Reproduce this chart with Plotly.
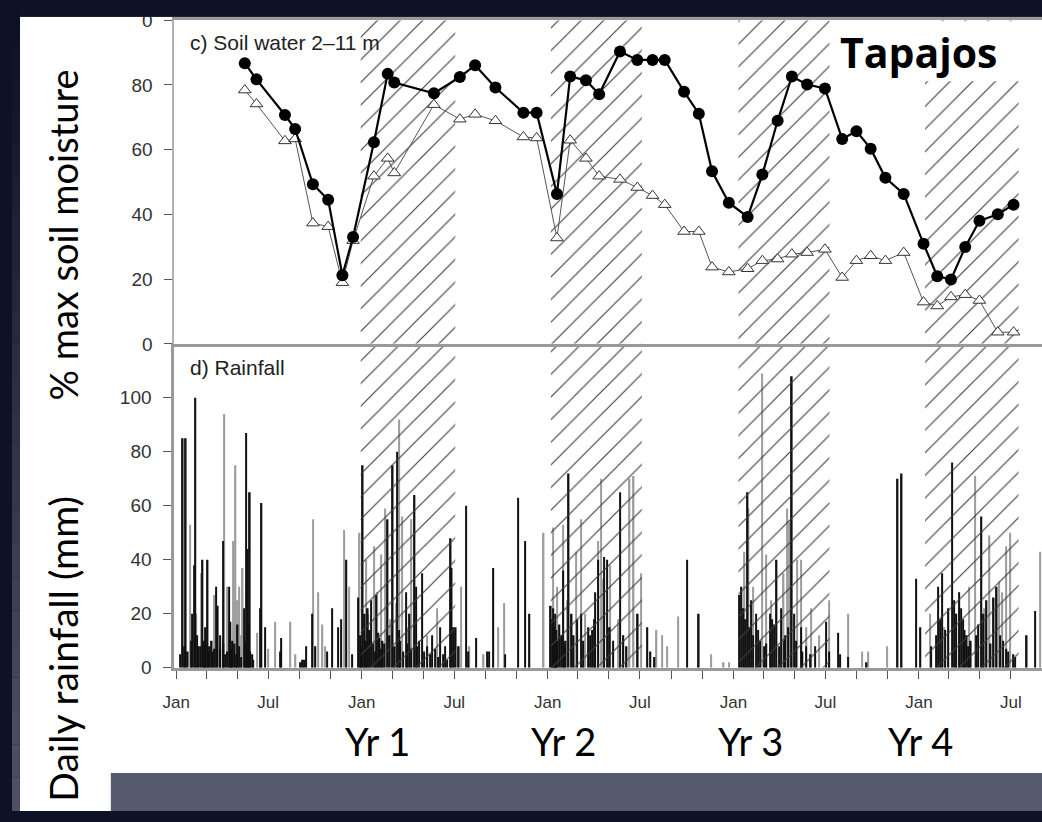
import numpy as np
import pandas as pd
import plotly.graph_objects as go

W, H = 1042, 822

# ---------------- data ----------------
soil_dates = ["1999-05-16", "1999-06-08", "1999-08-03", "1999-08-23", "1999-09-27", "1999-10-27", "1999-11-24", "1999-12-15",
              "2000-01-25", "2000-02-21", "2000-03-05", "2000-05-22", "2000-07-12", "2000-08-11", "2000-09-20", "2000-11-14", "2000-12-10",
              "2001-01-19", "2001-02-14", "2001-03-17", "2001-04-12", "2001-05-23", "2001-06-26", "2001-07-26", "2001-08-19", "2001-09-26",
              "2001-10-25", "2001-11-20", "2001-12-23",
              "2002-01-29", "2002-02-27", "2002-03-29", "2002-04-26", "2002-05-26", "2002-06-30", "2002-08-03", "2002-08-31", "2002-09-28",
              "2002-10-27", "2002-12-02",
              "2003-01-10", "2003-02-06", "2003-03-05", "2003-04-02", "2003-04-30", "2003-06-05", "2003-07-06"]
soil_control = [86.7, 81.7, 70.7, 66.4, 49.3, 44.5, 21.2, 33.0, 62.3, 83.4, 80.7, 77.4, 82.4, 86.1, 79.2, 71.4, 71.4,
                46.3, 82.6, 81.4, 77.1, 90.3, 87.7, 87.7, 87.7, 77.9, 71.1, 53.3, 43.6,
                39.2, 52.3, 68.9, 82.6, 80.1, 78.9, 63.3, 65.7, 60.3, 51.3, 46.3,
                30.9, 20.9, 19.9, 29.9, 38.0, 40.0, 43.0]
soil_treatment = [78.4, 74.1, 62.7, 63.3, 37.3, 36.2, 18.9, 31.9, 51.8, 57.3, 52.8, 73.9, 69.4, 70.9, 68.9, 63.9, 63.6,
                  32.7, 62.9, 57.3, 51.8, 50.8, 48.3, 45.8, 43.0, 34.7, 34.7, 23.7, 22.2,
                  23.2, 25.7, 26.2, 27.7, 28.2, 29.2, 20.5, 25.7, 27.2, 25.7, 28.2,
                  12.9, 11.7, 14.5, 15.2, 13.4, 3.6, 3.6]

# daily rainfall (day of record counted from 1999-01-01, mm)
rain_start = "1999-01-01"
rain_black = [(8, 5), (13, 85), (16, 8), (19, 85), (23, 6), (29, 10), (31, 20), (35, 38), (38, 100), (41, 12), (43, 8), (47, 8),
              (52, 40), (55, 10), (56, 9), (58, 15), (62, 40), (64, 6), (66, 8), (70, 10), (72, 6), (76, 7), (79, 30), (82, 23),
              (86, 7), (87, 12), (92, 47), (93, 9), (97, 5), (101, 6), (104, 30), (107, 17), (109, 7), (111, 10), (115, 9),
              (119, 5), (121, 16), (124, 8), (128, 4), (134, 22), (136, 10), (138, 87), (141, 44), (142, 16), (145, 65),
              (146, 6), (150, 5), (152, 3), (165, 22), (168, 61), (175, 15), (205, 6), (207, 11), (245, 2), (249, 3), (253, 3),
              (256, 8), (267, 20), (274, 8), (297, 6), (307, 22), (319, 15), (325, 18), (335, 40), (346, 5), (358, 26),
              (362, 12), (365, 8), (367, 75), (371, 20), (373, 10), (377, 22), (381, 14), (384, 25), (387, 9), (391, 6),
              (393, 27), (398, 13), (400, 11), (404, 7), (406, 10), (410, 9), (416, 55), (420, 12), (426, 75), (430, 8),
              (435, 80), (439, 14), (441, 10), (447, 6), (452, 28), (455, 9), (459, 20), (463, 7), (469, 64), (472, 30),
              (474, 8), (478, 10), (484, 35), (488, 6), (494, 8), (500, 5), (503, 12), (509, 7), (515, 4), (519, 15), (525, 5),
              (529, 8), (533, 3), (540, 48), (542, 37), (546, 15), (550, 15), (556, 8), (570, 60), (575, 6), (590, 11),
              (612, 6), (616, 6), (624, 37), (647, 5), (673, 63), (686, 47), (695, 20),
              (737, 23), (739, 18), (741, 22), (743, 15), (745, 20), (746, 12), (748, 14), (750, 10), (754, 16), (758, 12),
              (761, 36), (764, 8), (766, 10), (772, 72), (778, 20), (782, 12), (789, 18), (797, 20), (801, 10), (811, 15),
              (815, 12), (818, 14), (822, 18), (824, 28), (830, 40), (842, 41), (848, 40), (853, 15), (859, 10), (873, 65),
              (879, 12), (886, 8), (908, 20), (927, 15), (933, 6), (941, 4), (1005, 40), (1028, 20),
              (1108, 27), (1112, 30), (1116, 22), (1120, 18), (1124, 65), (1128, 15), (1131, 25), (1135, 12), (1141, 20),
              (1145, 14), (1149, 10), (1157, 8), (1161, 9), (1168, 20), (1172, 18), (1176, 16), (1181, 40), (1186, 8),
              (1190, 22), (1196, 10), (1198, 12), (1204, 15), (1211, 108), (1216, 20), (1219, 10), (1229, 15), (1232, 6),
              (1239, 8), (1248, 5), (1257, 8), (1278, 17), (1284, 6), (1302, 13), (1306, 5), (1322, 4), (1358, 2),
              (1419, 70), (1427, 72), (1455, 33), (1464, 15), (1485, 8), (1495, 12), (1499, 30), (1503, 18), (1507, 35),
              (1513, 14), (1519, 22), (1526, 76), (1530, 25), (1534, 20), (1540, 28), (1544, 22), (1548, 18), (1551, 14),
              (1555, 12), (1559, 8), (1563, 10), (1573, 12), (1578, 16), (1584, 56), (1588, 20), (1594, 25), (1602, 9),
              (1608, 26), (1614, 30), (1621, 12), (1627, 10), (1633, 7), (1637, 6), (1647, 5), (1650, 4), (1673, 12),
              (1689, 21)]
rain_gray = [(27, 53), (40, 20), (49, 35), (60, 15), (74, 27), (95, 94), (100, 30), (113, 47), (117, 75), (121, 25), (124, 30),
             (128, 12), (131, 37), (159, 13), (181, 7), (194, 17), (225, 17), (235, 5), (270, 55), (280, 28), (288, 16),
             (293, 8), (330, 51), (340, 30), (361, 50), (373, 40), (378, 20), (390, 45), (395, 28), (403, 42), (411, 59),
             (422, 18), (432, 24), (439, 92), (445, 56), (455, 15), (463, 55), (494, 12), (513, 22), (560, 30), (577, 8),
             (605, 5), (634, 15), (645, 24), (723, 50), (741, 52), (750, 30), (761, 53), (770, 25), (787, 43), (797, 55),
             (805, 20), (830, 47), (836, 70), (840, 33), (853, 38), (870, 18), (880, 12), (892, 70), (900, 71), (914, 35),
             (945, 14), (956, 12), (965, 8), (988, 19), (1052, 5), (1077, 2), (1087, 2), (1118, 43), (1126, 59), (1135, 30),
             (1153, 109), (1161, 42), (1170, 25), (1195, 35), (1201, 59), (1205, 54), (1221, 40), (1229, 40), (1240, 15),
             (1249, 22), (1265, 12), (1285, 25), (1322, 20), (1349, 6), (1361, 6), (1399, 8), (1483, 20), (1510, 15),
             (1534, 20), (1540, 25), (1560, 30), (1572, 71), (1590, 22), (1600, 49), (1619, 32), (1625, 28), (1633, 45),
             (1641, 50), (1699, 43)]

# throughfall-exclusion (panels in place) periods -> hatched bands
exclusion_start = ["1999-12-30", "2001-01-07", "2002-01-11", "2003-01-13"]
exclusion_end = ["2000-07-03", "2001-07-05", "2002-07-09", "2003-07-16"]

month_tick_dates = ["1999-01-01", "1999-07-01", "2000-01-01", "2000-07-01", "2001-01-01", "2001-07-01",
                    "2002-01-01", "2002-07-01", "2003-01-01", "2003-07-01"]
month_tick_labels = ["Jan", "Jul", "Jan", "Jul", "Jan", "Jul", "Jan", "Jul", "Jan", "Jul"]
soil_ticks = [0, 20, 40, 60, 80, 100]
soil_tick_labels = ["0", "20", "40", "60", "80", "0"]
rain_ticks = [0, 20, 40, 60, 80, 100]
year_labels = ["Yr 1", "Yr 2", "Yr 3", "Yr 4"]

# ---------------- helpers ----------------
DAY_MS = 86400000
t0 = pd.Timestamp(rain_start)
rb_day, rb_mm = zip(*rain_black)
rg_day, rg_mm = zip(*rain_gray)
rb_x = [t0 + pd.Timedelta(days=d) for d in rb_day]
rg_x = [t0 + pd.Timedelta(days=d) for d in rg_day]

bs = pd.to_datetime(exclusion_start)
be = pd.to_datetime(exclusion_end)
band_mid = bs + (be - bs) / 2
band_w = [(e - s).total_seconds() * 1000 for s, e in zip(bs, be)]

x_range = ["1998-12-28", "2003-08-31"]
x_dom = [164 / W, 1.0]
yb_dom = [(H - 675) / H, (H - 342.6) / H]
yt_dom = [(H - 342.6) / H, (H - 10.4) / H]

AX = "#9a9a9a"
TICKC = "#555555"
SANS = "Liberation Sans, Arial, Helvetica, sans-serif"
GILL = "Lato, Open Sans, sans-serif"
NAVY = "#0f1226"

fig = go.Figure()

# rainfall bars
fig.add_trace(go.Bar(x=rg_x, y=rg_mm, width=2.6 * DAY_MS, marker=dict(color="#9c9c9c", line_width=0),
                     xaxis="x", yaxis="y", hoverinfo="skip"))
fig.add_trace(go.Bar(x=rb_x, y=rb_mm, width=3.0 * DAY_MS, marker=dict(color="#111111", line_width=0),
                     xaxis="x", yaxis="y", hoverinfo="skip"))

# hatched exclusion bands in both panels
for xa, ya, top in [("x", "y", 120), ("x2", "y2", 100)]:
    fig.add_trace(go.Bar(
        x=band_mid, y=[top] * len(band_mid), width=band_w, xaxis=xa, yaxis=ya, hoverinfo="skip",
        marker=dict(color="rgba(255,255,255,0)", line_width=0,
                    pattern=dict(shape="/", size=16, solidity=0.07, fgcolor="#3c3c3c",
                                 bgcolor="rgba(255,255,255,0)", fillmode="replace"))))

# soil water
fig.add_trace(go.Scatter(x=soil_dates, y=soil_treatment, mode="lines+markers", xaxis="x2", yaxis="y2",
                         line=dict(color="#555555", width=1),
                         marker=dict(symbol="triangle-up", size=11, color="white",
                                     line=dict(color="#333333", width=1))))
fig.add_trace(go.Scatter(x=soil_dates, y=soil_control, mode="lines+markers", xaxis="x2", yaxis="y2",
                         line=dict(color="#000000", width=2.2),
                         marker=dict(symbol="circle", size=12, color="#000000")))

fig.update_layout(
    width=W, height=H, margin=dict(l=0, r=0, t=0, b=0),
    paper_bgcolor=NAVY, plot_bgcolor="rgba(0,0,0,0)",
    showlegend=False, barmode="overlay",
    xaxis=dict(domain=x_dom, range=x_range, type="date", anchor="y",
               tickmode="array", tickvals=month_tick_dates, ticktext=month_tick_labels,
               ticks="outside", ticklen=8, tickwidth=1, tickcolor=TICKC,
               minor=dict(dtick="M2", tick0="1999-01-01", ticks="outside", ticklen=8, tickwidth=1,
                          tickcolor=TICKC, showgrid=False),
               showline=True, linecolor=AX, linewidth=2.5, showgrid=False, zeroline=False,
               tickfont=dict(family=SANS, size=17, color="#333333"), ticklabelstandoff=9),
    xaxis2=dict(domain=x_dom, range=x_range, type="date", anchor="y2", matches="x",
                showticklabels=False, ticks="", showline=True, mirror=True, linecolor=AX, linewidth=2.5,
                showgrid=False, zeroline=False),
    yaxis=dict(domain=yb_dom, range=[0, 120], anchor="x", tickmode="array", tickvals=rain_ticks,
               ticks="outside", ticklen=8, tickwidth=1, tickcolor=TICKC,
               showline=True, linecolor=AX, linewidth=2.5, showgrid=False, zeroline=False,
               tickfont=dict(family=SANS, size=19, color="#333333"), ticklabelstandoff=8),
    yaxis2=dict(domain=yt_dom, range=[0, 100], anchor="x2", tickmode="array", tickvals=soil_ticks,
                ticktext=soil_tick_labels,
                ticks="outside", ticklen=8, tickwidth=1, tickcolor=TICKC,
                showline=True, linecolor="#b0b0b0", linewidth=1.5, showgrid=False, zeroline=False,
                tickfont=dict(family=SANS, size=19, color="#333333"), ticklabelstandoff=8),
)

# slide background pieces
shapes = [
    dict(type="rect", xref="paper", yref="paper", x0=8 / W, x1=1, y0=0, y1=1 - 7 / H,
         fillcolor="white", line_width=0, layer="below"),
    dict(type="rect", xref="paper", yref="paper", x0=100 / W, x1=1, y0=0, y1=(H - 783) / H,
         fillcolor="#565a6f", line_width=0, layer="below"),
]
top_c = np.array([13, 16, 36])
bot_c = np.array([80, 83, 104])
nseg = 24
for i in range(nseg):
    f = (i + 0.5) / nseg
    c = (top_c * (1 - f) + bot_c * f).astype(int)
    shapes.append(dict(type="rect", xref="paper", yref="paper", x0=0, x1=8 / W,
                       y0=1 - (i + 1) / nseg, y1=1 - i / nseg,
                       fillcolor=f"rgb({c[0]},{c[1]},{c[2]})", line_width=0, layer="below"))
# dark top band (covers the top of the figure, incl. clipped tick label)
shapes.append(dict(type="rect", xref="paper", yref="paper", x0=8 / W, x1=1, y0=1 - 7 / H, y1=1,
                   fillcolor=NAVY, line_width=0, layer="above"))
# white label box behind "Tapajos"
shapes.append(dict(type="rect", xref="paper", yref="paper", x0=830 / W, x1=1, y0=(H - 73) / H, y1=(H - 11.5) / H,
                   fillcolor="white", line_width=0, layer="above"))
fig.update_layout(shapes=shapes)

ann = [
    dict(text="<b>Tapajos</b>", x=918 / W, y=1 - 43 / H, xref="paper", yref="paper", showarrow=False,
         xanchor="center", yanchor="middle", font=dict(family="Open Sans, Lato, sans-serif", size=41, color="black")),
    dict(text="c) Soil water 2\u201311 m", x=178 / W, y=1 - 33 / H, xref="paper", yref="paper", showarrow=False,
         xanchor="left", yanchor="middle", font=dict(family=SANS, size=21, color="#222222")),
    dict(text="d) Rainfall", x=178 / W, y=1 - 367 / H, xref="paper", yref="paper", showarrow=False,
         xanchor="left", yanchor="middle", font=dict(family=SANS, size=21, color="#222222")),
    dict(text="% max soil moisture", x=52 / W, y=1 - 231 / H, xref="paper", yref="paper", showarrow=False,
         textangle=-90, xanchor="center", yanchor="middle", font=dict(family=GILL, size=38, color="black")),
    dict(text="Daily rainfall (mm)", x=52 / W, y=1 - 655 / H, xref="paper", yref="paper", showarrow=False,
         textangle=-90, xanchor="center", yanchor="middle", font=dict(family=GILL, size=39, color="black")),
]
for lab, px in zip(year_labels, [370, 558, 747, 919]):
    ann.append(dict(text=lab, x=px / W, xref="paper", y=1 - 750 / H, yref="paper", showarrow=False,
                    xanchor="center", yanchor="middle", font=dict(family=GILL, size=38, color="black")))
fig.update_layout(annotations=ann)

fig.write_html("out.html", config={"displayModeBar": False},
               post_script="document.body.style.margin='0px';"
                           "document.body.style.background='" + NAVY + "';"
                           "document.body.style.overflow='hidden';"
                           "document.documentElement.style.overflow='hidden';")
